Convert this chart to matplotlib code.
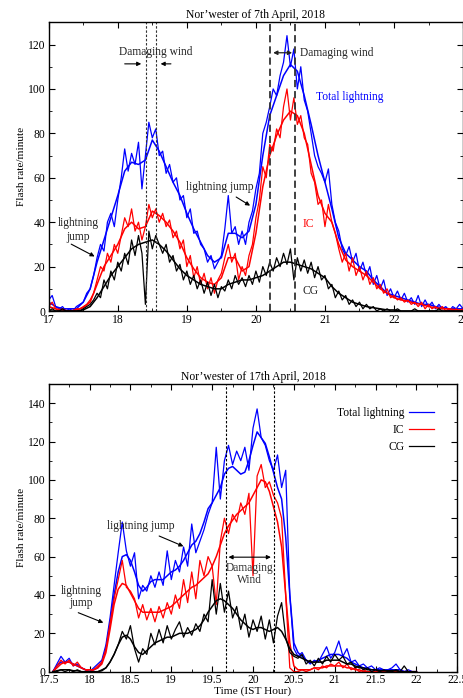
import numpy as np
import matplotlib
matplotlib.use("Agg")
import matplotlib.pyplot as plt
from matplotlib.ticker import MultipleLocator, FuncFormatter

plt.rcParams['font.family'] = ['Liberation Serif', 'DejaVu Serif']

# ---------------- Panel 1 : 7th April 2018 ----------------
top_start, top_step = 17.0, 0.05
top_total_raw = [5, 7, 2, 1, 2, 0, 1, 0, 2, 3, 4, 8, 10, 16, 24, 30, 27, 40, 44, 38,
                 50, 60, 73, 63, 71, 66, 76, 55, 70, 85, 78, 82, 70, 72, 62, 66, 58, 60, 50, 52,
                 42, 46, 35, 36, 30, 28, 22, 25, 19, 22, 25, 37, 52, 35, 38, 30, 36, 30, 40, 45,
                 55, 62, 80, 85, 92, 100, 97, 106, 112, 124, 110, 118, 100, 110, 95, 90, 80, 70, 65, 62,
                 58, 64, 48, 40, 36, 28, 25, 29, 22, 26, 18, 22, 16, 20, 12, 16, 10, 14, 7, 10,
                 6, 9, 5, 8, 4, 6, 3, 7, 2, 5, 2, 4, 1, 3, 1, 2, 0, 2, 1, 3, 1]
top_ic_raw = [2, 4, 1, 0, 1, 0, 0, 0, 1, 1, 2, 3, 5, 8, 14, 20, 18, 26, 22, 30,
              26, 34, 42, 38, 46, 36, 40, 32, 38, 48, 42, 46, 40, 44, 38, 41, 33, 36, 28, 32,
              20, 25, 15, 20, 12, 17, 10, 15, 8, 14, 17, 24, 30, 22, 26, 14, 20, 16, 25, 30,
              42, 50, 65, 60, 75, 72, 82, 78, 92, 100, 86, 96, 84, 88, 78, 75, 62, 58, 48, 50,
              38, 48, 40, 35, 28, 22, 26, 18, 24, 16, 20, 14, 18, 12, 15, 10, 12, 8, 10, 6,
              7, 5, 6, 4, 5, 3, 4, 2, 4, 1, 3, 1, 2, 1, 2, 0, 1, 0, 1, 0, 1]
top_cg_raw = [0, 1, 0, 0, 1, 0, 0, 0, 0, 0, 1, 2, 3, 5, 8, 6, 14, 10, 18, 14,
              22, 18, 26, 21, 32, 25, 34, 26, 3, 36, 28, 34, 30, 26, 30, 22, 25, 18, 21, 14,
              18, 12, 16, 10, 14, 8, 13, 7, 12, 6, 11, 9, 14, 10, 16, 12, 15, 11, 16, 12,
              18, 13, 20, 16, 22, 18, 24, 20, 26, 21, 28, 14, 24, 18, 23, 17, 22, 15, 20, 14,
              16, 10, 12, 6, 9, 5, 7, 3, 5, 2, 4, 1, 3, 1, 2, 0, 1, 0, 1, 0,
              0, 1, 0, 0, 0, 0, 1, 0, 0, 0, 0, 0, 0, 1, 0, 0, 0, 0, 0, 0, 0]

top_s_start, top_s_step = 17.0, 0.1
top_total_smooth = [4, 2, 1, 1, 1, 4, 10, 22, 32, 42, 52, 63, 67, 66, 68, 77, 72, 65, 58, 52,
                    44, 37, 31, 25, 22, 24, 35, 35, 33, 36, 48, 70, 88, 97, 106, 111, 108, 97, 84, 70,
                    58, 46, 33, 26, 23, 20, 18, 14, 11, 8, 7, 6, 5, 4, 3, 3, 2, 1.5, 1, 1, 1]
top_ic_smooth = [2, 1, 0.5, 0, 0.5, 1.5, 4, 12, 20, 25, 30, 37, 40, 37, 38, 45, 43, 40, 36, 31,
                 24, 19, 15, 13, 12, 15, 24, 24, 18, 20, 35, 56, 70, 79, 86, 90, 88, 80, 66, 52,
                 44, 40, 30, 23, 20, 18, 16, 13, 10, 8, 6, 5, 4.5, 3.5, 3, 2, 1.5, 1, 1, 0.5, 0.5]
top_cg_smooth = [0, 0, 0, 0, 0, 0.5, 2, 6, 11, 16, 20, 24, 28, 30, 31, 32, 30, 27, 23, 19,
                 16, 14, 12, 11, 10, 10, 12, 13, 14, 14, 15, 16, 18, 20, 22, 22, 21, 20, 19, 17,
                 15, 11, 8, 6, 4, 3, 2, 1.5, 1, 0.5, 0.5, 0, 0, 0, 0, 0, 0, 0, 0, 0, 0]

# ---------------- Panel 2 : 17th April 2018 ----------------
bot_start, bot_step = 17.55, 0.05
bot_total_raw = [0, 4, 8, 5, 7, 3, 4, 2, 1, 0, 2, 4, 6, 14, 28, 45, 62, 78, 63, 55,
                 62, 38, 45, 42, 50, 44, 52, 45, 63, 48, 58, 52, 65, 55, 77, 62, 68, 74, 82, 88,
                 117, 90, 110, 118, 108, 115, 110, 117, 105, 127, 137, 122, 118, 110, 105, 113, 96, 105, 40, 12,
                 8, 10, 6, 4, 6, 5, 9, 13, 7, 10, 16, 8, 12, 5, 6, 3, 4, 2, 3, 1,
                 2, 1, 1, 2, 4, 1, 0, 1, 0, 0]
bot_ic_raw = [0, 3, 6, 4, 6, 3, 5, 2, 1, 0, 1, 3, 5, 12, 25, 38, 48, 58, 44, 42,
              38, 28, 35, 27, 33, 26, 34, 28, 36, 30, 40, 33, 48, 36, 52, 38, 58, 50, 60, 55,
              35, 68, 80, 72, 82, 78, 88, 82, 93, 50, 102, 108, 96, 99, 92, 88, 80, 40, 2, 0,
              0, 1, 0, 1, 2, 1, 3, 2, 4, 3, 5, 2, 4, 1, 2, 0, 1, 0, 0, 0,
              0, 0, 0, 0, 0, 0, 0, 0, 0, 0]
bot_cg_raw = [0, 0, 1, 0, 1, 0, 1, 0, 0, 0, 0, 0, 1, 2, 5, 9, 14, 21, 17, 24,
              12, 5, 12, 9, 20, 14, 22, 15, 24, 17, 22, 26, 18, 23, 19, 25, 21, 30, 26, 48,
              30, 46, 31, 42, 28, 34, 22, 30, 18, 27, 21, 29, 17, 27, 15, 29, 36, 18, 10, 8,
              7, 9, 4, 6, 3, 7, 4, 8, 5, 9, 6, 8, 4, 5, 2, 3, 1, 2, 0, 1,
              0, 1, 0, 0, 1, 0, 3, 0, 0, 0]

bot_total_smooth = [0, 3, 5, 5, 5, 4, 3, 2, 1, 1, 1, 2, 5, 12, 25, 40, 52, 60, 61, 58,
                    52, 45, 42, 44, 47, 48, 48, 48, 50, 52, 53, 55, 58, 62, 66, 68, 72, 78, 85, 88,
                    92, 96, 103, 106, 107, 105, 103, 104, 110, 118, 125, 122, 119, 112, 104, 96, 90, 70, 40, 15,
                    10, 8, 6, 5, 5, 6, 7, 8, 9, 9, 9, 8, 7, 5, 4, 3, 2, 2, 1, 1,
                    1, 1, 1, 1, 1, 1, 0, 0, 0, 0]
bot_ic_smooth = [0, 2, 4, 5, 5, 4, 3, 2, 1, 1, 1, 2, 4, 10, 22, 35, 43, 46, 45, 41,
                 37, 33, 31, 31, 31, 31, 31, 32, 33, 34, 36, 38, 40, 42, 44, 45, 47, 49, 51, 55,
                 60, 66, 72, 76, 79, 82, 84, 86, 88, 92, 96, 100, 99, 94, 86, 78, 65, 40, 15, 3,
                 1, 1, 1, 1, 2, 2, 2, 3, 3, 3, 3, 3, 2, 2, 1, 1, 0, 0, 0, 0,
                 0, 0, 0, 0, 0, 0, 0, 0, 0, 0]
bot_cg_smooth = [0, 0.5, 1, 1, 1, 0.5, 0.5, 0, 0, 0, 0, 0, 0.5, 2, 5, 9, 14, 18, 19, 17,
                 13, 10, 9, 11, 13, 15, 16, 17, 18, 18, 19, 20, 20, 20, 21, 22, 24, 27, 31, 34,
                 37, 38, 37, 35, 33, 30, 27, 25, 23, 22, 23, 23, 22, 21, 22, 23, 21, 17, 12, 9,
                 8, 7, 6, 5, 5, 5, 5, 6, 6, 6, 6, 5, 4, 4, 3, 2, 2, 1, 1, 1,
                 0.5, 0.5, 0.5, 0.5, 0.5, 0, 0, 0, 0, 0]

BLUE, RED, BLACK = '#0000ff', '#ff0000', '#000000'


def times(start, step, arr):
    return start + step * np.arange(len(arr))


def fmt(v, pos):
    return f"{v:g}"


fig = plt.figure(figsize=(4.64, 6.98), dpi=100)
ax1 = fig.add_axes([0.105, 0.5544, 0.893, 0.4136])
ax2 = fig.add_axes([0.105, 0.0377, 0.8806, 0.4122])

TS = 8.4
for ax in (ax1, ax2):
    ax.tick_params(which='both', direction='in', top=True, right=True, labelsize=TS)
    ax.tick_params(axis='x', pad=2.0)
    ax.tick_params(axis='y', pad=2.5)
    ax.tick_params(which='major', length=4, width=0.8)
    ax.tick_params(which='minor', length=2, width=0.6)
    for s in ax.spines.values():
        s.set_linewidth(1.0)
    ax.set_ylabel('Flash rate/minute', fontsize=8.1, labelpad=1)

# ---- Panel 1 ----
raw_lw, sm_lw = 0.9, 1.1
ax1.plot(times(top_start, top_step, top_total_raw), top_total_raw, color=BLUE, lw=raw_lw)
ax1.plot(times(top_s_start, top_s_step, top_total_smooth), top_total_smooth, color=BLUE, lw=sm_lw)
ax1.plot(times(top_start, top_step, top_ic_raw), top_ic_raw, color=RED, lw=raw_lw)
ax1.plot(times(top_s_start, top_s_step, top_ic_smooth), top_ic_smooth, color=RED, lw=sm_lw)
ax1.plot(times(top_start, top_step, top_cg_raw), top_cg_raw, color=BLACK, lw=raw_lw)
ax1.plot(times(top_s_start, top_s_step, top_cg_smooth), top_cg_smooth, color=BLACK, lw=sm_lw)

ax1.set_xlim(17, 23)
ax1.set_ylim(0, 130)
ax1.xaxis.set_major_locator(MultipleLocator(1))
ax1.xaxis.set_minor_locator(MultipleLocator(0.5))
ax1.yaxis.set_major_locator(MultipleLocator(20))
ax1.yaxis.set_minor_locator(MultipleLocator(10))
ax1.xaxis.set_major_formatter(FuncFormatter(fmt))
ax1.set_title('Nor\u2019wester of 7th April, 2018', fontsize=8.4, pad=3)

for x in (18.405, 18.555):
    ax1.axvline(x, color='#333333', lw=0.8, ls=(0, (2.2, 1.6)))
for x in (20.21, 20.565):
    ax1.axvline(x, color='#333333', lw=1.3, ls=(0, (4, 2.2)))

FS = 8.3
ax1.text(18.55, 116.5, 'Damaging wind', ha='center', va='center', fontsize=FS, color='#222222')
ax1.annotate('', xy=(18.38, 111.3), xytext=(18.06, 111.3),
             arrowprops=dict(arrowstyle='-|>', color='black', lw=0.8, mutation_scale=6))
ax1.annotate('', xy=(18.58, 111.3), xytext=(18.81, 111.3),
             arrowprops=dict(arrowstyle='-|>', color='black', lw=0.8, mutation_scale=6))
ax1.annotate('', xy=(20.21, 116.3), xytext=(20.565, 116.3),
             arrowprops=dict(arrowstyle='<|-|>', color='#222222', lw=0.9, mutation_scale=6))
ax1.text(20.64, 116, 'Damaging wind', ha='left', va='center', fontsize=FS, color='#222222')
ax1.text(20.87, 96.5, 'Total lightning', ha='left', va='center', fontsize=FS, color=BLUE)
ax1.text(20.67, 39, 'IC', ha='left', va='center', fontsize=FS, color=RED)
ax1.text(20.67, 9, 'CG', ha='left', va='center', fontsize=FS, color='#222222')
ax1.text(19.48, 56, 'lightning jump', ha='center', va='center', fontsize=FS, color='#222222')
ax1.annotate('', xy=(19.95, 46.8), xytext=(19.68, 52),
             arrowprops=dict(arrowstyle='-|>', color='black', lw=0.8, mutation_scale=6))
ax1.text(17.43, 39.5, 'lightning', ha='center', va='center', fontsize=FS, color='#222222')
ax1.text(17.43, 33.5, 'jump', ha='center', va='center', fontsize=FS, color='#222222')
ax1.annotate('', xy=(17.7, 24), xytext=(17.29, 30.7),
             arrowprops=dict(arrowstyle='-|>', color='black', lw=0.8, mutation_scale=6))

# ---- Panel 2 ----
l1, = ax2.plot(times(bot_start, bot_step, bot_total_raw), bot_total_raw, color=BLUE, lw=raw_lw)
ax2.plot(times(bot_start, bot_step, bot_total_smooth), bot_total_smooth, color=BLUE, lw=sm_lw)
l2, = ax2.plot(times(bot_start, bot_step, bot_ic_raw), bot_ic_raw, color=RED, lw=raw_lw)
ax2.plot(times(bot_start, bot_step, bot_ic_smooth), bot_ic_smooth, color=RED, lw=sm_lw)
l3, = ax2.plot(times(bot_start, bot_step, bot_cg_raw), bot_cg_raw, color=BLACK, lw=raw_lw)
ax2.plot(times(bot_start, bot_step, bot_cg_smooth), bot_cg_smooth, color=BLACK, lw=sm_lw)

ax2.set_xlim(17.5, 22.5)
ax2.set_ylim(0, 150)
ax2.xaxis.set_major_locator(MultipleLocator(0.5))
ax2.xaxis.set_minor_locator(MultipleLocator(0.25))
ax2.yaxis.set_major_locator(MultipleLocator(20))
ax2.yaxis.set_minor_locator(MultipleLocator(10))
ax2.xaxis.set_major_formatter(FuncFormatter(fmt))
ax2.set_xlabel('Time (IST Hour)', fontsize=8.2, labelpad=0)
ax2.set_title('Nor\u2019wester of 17th April, 2018', fontsize=8.4, pad=3)

for x in (19.666, 20.253):
    ax2.axvline(x, color='black', lw=0.8, ls=(0, (2.2, 1.6)))
ax2.annotate('', xy=(19.666, 59.7), xytext=(20.253, 59.7),
             arrowprops=dict(arrowstyle='<|-|>', color='black', lw=0.8, mutation_scale=6))
ax2.text(19.96, 54, 'Damaging', ha='center', va='center', fontsize=FS, color='#333333')
ax2.text(19.96, 47.7, 'Wind', ha='center', va='center', fontsize=FS, color='#333333')
ax2.text(18.63, 76, 'lightning jump', ha='center', va='center', fontsize=FS, color='#222222')
ax2.annotate('', xy=(19.18, 64.8), xytext=(18.82, 71.3),
             arrowprops=dict(arrowstyle='-|>', color='black', lw=0.8, mutation_scale=6))
ax2.text(17.9, 42, 'lightning', ha='center', va='center', fontsize=FS, color='#222222')
ax2.text(17.9, 35.7, 'jump', ha='center', va='center', fontsize=FS, color='#222222')
ax2.annotate('', xy=(18.2, 25), xytext=(17.83, 31.3),
             arrowprops=dict(arrowstyle='-|>', color='black', lw=0.8, mutation_scale=6))

ax2.legend([l1, l2, l3], ['Total lightning', 'IC', 'CG'], loc='upper right',
           markerfirst=False, frameon=False, fontsize=8.3, handlelength=2.2,
           labelspacing=0.45, handletextpad=0.4, borderaxespad=1.6)

fig.savefig('out.png', dpi=100)
